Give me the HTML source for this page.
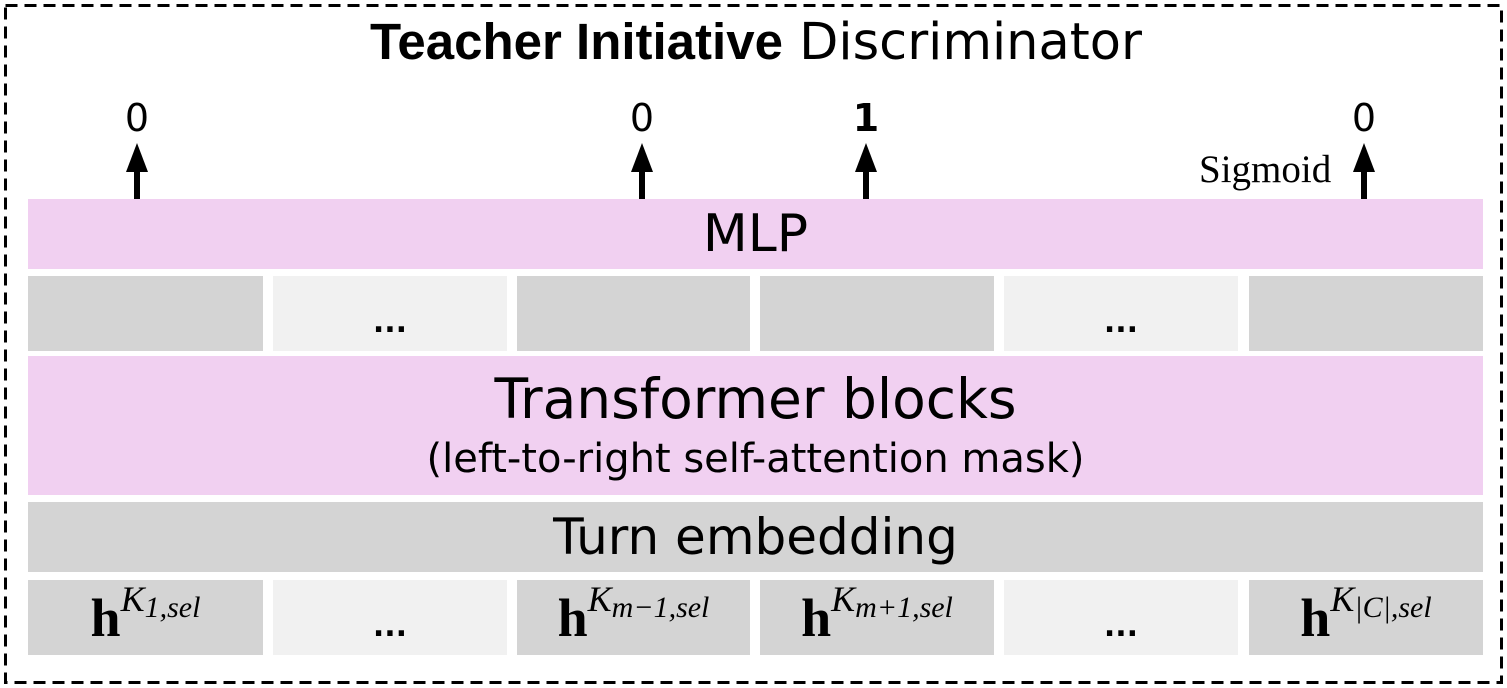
<!DOCTYPE html>
<html><head><style>
body{margin:0;width:1507px;height:688px;background:#fff;position:relative;overflow:hidden;font-family:"DejaVu Sans","Liberation Sans",sans-serif;}
.b{position:absolute;}
.pk{background:#f1d0f1;}
.g{background:#d4d4d4;}
.l{background:#f1f1f1;}
.c{display:flex;align-items:center;justify-content:center;}
.h{font-family:"Liberation Serif",serif;font-size:40px;white-space:nowrap;}
.h b{font-size:54px;}
.h i{font-size:36px;position:relative;top:-16px;}
.h i sub{font-size:30px;vertical-align:-6px;}
.n{position:absolute;font-size:38px;width:60px;text-align:center;top:96px;}
.d{font-size:30px;padding-top:18px;box-sizing:border-box;font-weight:bold}
</style></head><body>
<svg class="b" style="left:0;top:0" width="1507" height="688">
<rect x="5.5" y="5.5" width="1496" height="677" fill="none" stroke="#000" stroke-width="3" stroke-dasharray="12,7"/>
<g fill="#000">
<rect x="134" y="170" width="6" height="29"/><polygon points="126,172 137,143 148,172"/>
<rect x="639" y="170" width="6" height="29"/><polygon points="631,172 642,143 653,172"/>
<rect x="863" y="170" width="6" height="29"/><polygon points="855,172 866,143 877,172"/>
<rect x="1361" y="170" width="6" height="29"/><polygon points="1353,172 1364,143 1375,172"/>
</g></svg>
<div class="b" style="left:0;width:1512px;top:12px;text-align:center;font-size:51px;white-space:nowrap;"><b style="font-family:'Liberation Sans',sans-serif">Teacher Initiative</b> Discriminator</div>
<div class="n" style="left:107px">0</div>
<div class="n" style="left:612px">0</div>
<div class="n" style="left:836px;font-weight:bold">1</div>
<div class="n" style="left:1334px">0</div>
<div class="b" style="left:1199px;top:147px;font-family:'Liberation Serif',serif;font-size:39px;">Sigmoid</div>
<div class="b pk c" style="left:28px;top:199px;width:1455px;height:70px;font-size:52px;">MLP</div>
<div class="b g" style="left:28px;top:276px;width:235px;height:75px;"></div>
<div class="b l c d" style="left:273px;top:276px;width:234px;height:75px;">...</div>
<div class="b g" style="left:517px;top:276px;width:233px;height:75px;"></div>
<div class="b g" style="left:760px;top:276px;width:234px;height:75px;"></div>
<div class="b l c d" style="left:1004px;top:276px;width:234px;height:75px;">...</div>
<div class="b g" style="left:1249px;top:276px;width:234px;height:75px;"></div>
<div class="b pk" style="left:28px;top:356px;width:1455px;height:139px;text-align:center;white-space:nowrap;">
<div style="font-size:55px;margin-top:8px;line-height:70px;">Transformer blocks</div>
<div style="font-size:40px;line-height:50px;">(left-to-right self-attention mask)</div></div>
<div class="b g c" style="left:28px;top:502px;width:1455px;height:70px;font-size:50px;">Turn embedding</div>
<div class="b g c h" style="left:28px;top:580px;width:235px;height:75px;"><b>h</b><i>K<sub>1,sel</sub></i></div>
<div class="b l c d" style="left:273px;top:580px;width:234px;height:75px;">...</div>
<div class="b g c h" style="left:517px;top:580px;width:233px;height:75px;"><b>h</b><i>K<sub>m−1,sel</sub></i></div>
<div class="b g c h" style="left:760px;top:580px;width:234px;height:75px;"><b>h</b><i>K<sub>m+1,sel</sub></i></div>
<div class="b l c d" style="left:1004px;top:580px;width:234px;height:75px;">...</div>
<div class="b g c h" style="left:1249px;top:580px;width:234px;height:75px;"><b>h</b><i>K<sub>|C|,sel</sub></i></div>
</body></html>
